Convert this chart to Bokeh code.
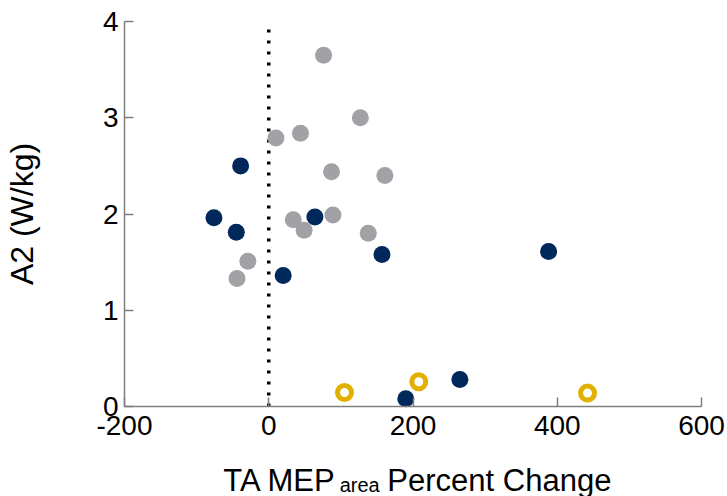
from bokeh.plotting import figure
from bokeh.models import Range1d, Label
from bokeh.embed import file_html
from bokeh.resources import INLINE

# ---- data ----
x_ticks = [-200, 0, 200, 400, 600]
x_tick_labels = ["-200", "0", "200", "400", "600"]
y_ticks = [0, 1, 2, 3, 4]

gray_x = [76, 127, 10, 44, 87, 161, 34, 89, 49, 138, -29, -44]
gray_y = [3.65, 3.00, 2.79, 2.84, 2.44, 2.40, 1.94, 1.99, 1.83, 1.80, 1.51, 1.33]

navy_x = [-39, -76, -45, 64, 157, 20, 388, 265, 190]
navy_y = [2.50, 1.96, 1.81, 1.97, 1.58, 1.36, 1.61, 0.28, 0.08]

gold_x = [105, 208, 442]
gold_y = [0.145, 0.257, 0.139]

zero_x = [0]
zero_y0 = [0]
zero_y1 = [4]

x_label_main = "TA MEP"
x_label_sub = "area"
x_label_rest = "Percent Change"
y_label = "A2 (W/kg)"

FONT = "Liberation Sans"
AX = "#7f7f7f"

W, H = 727, 496
LEFT, RIGHT, TOP, BOTTOM = 124, 26, 21, 90      # pixel margins around the axes box
PX_X = (W - LEFT - RIGHT) / (x_ticks[-1] - x_ticks[0])
PX_Y = (H - TOP - BOTTOM) / (y_ticks[-1] - y_ticks[0])

p = figure(width=W, height=H,
           x_range=Range1d(x_ticks[0] - LEFT / PX_X, x_ticks[-1] + RIGHT / PX_X),
           y_range=Range1d(y_ticks[0] - BOTTOM / PX_Y, y_ticks[-1] + TOP / PX_Y),
           output_backend="svg", toolbar_location=None,
           min_border=0)
p.grid.visible = False
p.outline_line_color = None
p.background_fill_color = "white"
p.border_fill_color = "white"

for ax in (p.xaxis[0], p.yaxis[0]):
    ax.axis_line_color = AX
    ax.axis_line_width = 1.5
    ax.major_tick_line_color = AX
    ax.major_tick_line_width = 1.5
    ax.major_tick_in = 9
    ax.major_tick_out = 0
    ax.minor_tick_line_color = None
    ax.major_label_text_font = FONT
    ax.major_label_text_font_size = "28px"
    ax.major_label_text_color = "black"

p.xaxis.ticker = x_ticks
p.xaxis.major_label_overrides = {t: s for t, s in zip(x_ticks, x_tick_labels)}
p.xaxis.fixed_location = y_ticks[0]
p.xaxis.bounds = (x_ticks[0], x_ticks[-1])
p.yaxis.ticker = y_ticks
p.yaxis.fixed_location = x_ticks[0]
p.yaxis.bounds = (y_ticks[0], y_ticks[-1])
p.xaxis.major_label_standoff = 9
p.yaxis.major_label_standoff = 6

p.yaxis.axis_label = y_label
p.yaxis.axis_label_text_font = FONT
p.yaxis.axis_label_text_font_size = "32px"
p.yaxis.axis_label_text_font_style = "normal"
p.yaxis.axis_label_text_color = "black"
p.yaxis.axis_label_standoff = 60

# dotted zero line
p.segment(x0=zero_x, y0=zero_y0, x1=zero_x, y1=zero_y1,
          line_color="black", line_width=3.5, line_dash="3 8")

# points
p.scatter(gray_x, gray_y, size=17, fill_color="#a2a2a6", line_color=None)
p.scatter(navy_x, navy_y, size=17, fill_color="#00285a", line_color=None)
p.scatter(gold_x, gold_y, size=14, fill_color="white",
          line_color="#e2b000", line_width=5)

# x axis label with subscript, built from Labels
main_px = 31
sub_px = 20
w_main = 3.723 * main_px
w_sub = 2.001 * sub_px
w_space = 0.278 * main_px
w_rest = 6.948 * main_px
total = w_main + w_sub + w_space + w_rest
center = (x_ticks[0] + x_ticks[-1]) / 2.0
start = center - total / 2.0 / PX_X
base_y = -73.5 / PX_Y
sub_y = -78.5 / PX_Y

for txt, xx, yy, fs in [
    (x_label_main, start, base_y, main_px),
    (x_label_sub, start + (w_main + 1) / PX_X, sub_y, sub_px),
    (x_label_rest, start + (w_main + w_sub + w_space) / PX_X, base_y, main_px),
]:
    p.add_layout(Label(x=xx, y=yy, text=txt, text_font=FONT,
                       text_font_size=f"{fs}px", text_color="black",
                       text_align="left", text_baseline="alphabetic"))

open("out.html", "w").write(file_html(p, INLINE))
